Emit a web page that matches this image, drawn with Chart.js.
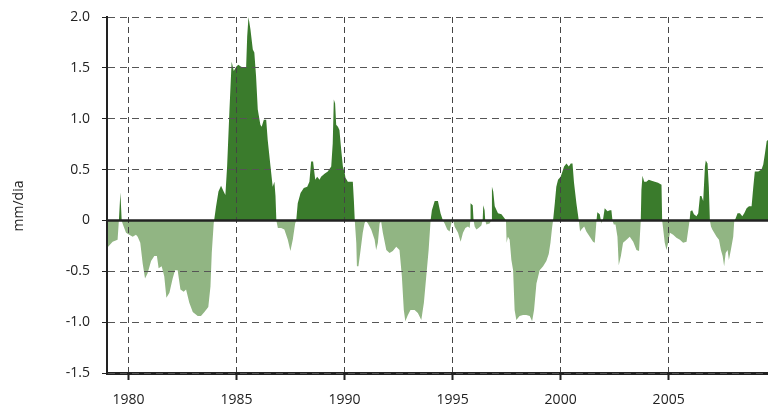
<!DOCTYPE html>
<html>
<head>
<meta charset="utf-8">
<title>mm/dia</title>
<script src="https://cdn.jsdelivr.net/npm/chart.js@4.4.1/dist/chart.umd.min.js"></script>
<style>
    html, body { margin: 0; padding: 0; background: #fff; }
    #wrap { position: relative; width: 768px; height: 410px; }
</style>
</head>
<body>
<div id="wrap"><canvas id="chart"></canvas></div>
<script>
// time axis (decimal years) and anomaly values in mm/dia
const years = [
    1979.00, 1979.26, 1979.49, 1979.55, 1979.62, 1979.68, 1979.72, 1979.88, 1980.03, 1980.19,
    1980.34, 1980.42, 1980.54, 1980.65, 1980.76, 1980.88, 1981.04, 1981.19, 1981.31, 1981.39,
    1981.53, 1981.65, 1981.75, 1981.89, 1982.04, 1982.15, 1982.27, 1982.40, 1982.55, 1982.66,
    1982.81, 1982.97, 1983.20, 1983.35, 1983.51, 1983.69, 1983.79, 1983.85, 1983.94,
    1984.05, 1984.16, 1984.28, 1984.40, 1984.48, 1984.56, 1984.67, 1984.77, 1984.87, 1984.98,
    1985.08, 1985.21, 1985.36, 1985.44, 1985.49, 1985.55, 1985.64, 1985.75, 1985.82, 1985.90,
    1985.98, 1986.10, 1986.16, 1986.26, 1986.37, 1986.44, 1986.57, 1986.67, 1986.75, 1986.80,
    1986.84, 1986.91, 1987.06, 1987.21, 1987.37, 1987.49, 1987.60, 1987.71, 1987.76, 1987.83,
    1987.96, 1988.11, 1988.27, 1988.37, 1988.45, 1988.54, 1988.64, 1988.73, 1988.84, 1988.91,
    1989.07, 1989.22, 1989.38, 1989.45, 1989.50, 1989.56, 1989.61, 1989.69, 1989.76, 1989.84,
    1989.92, 1990.00, 1990.04, 1990.15, 1990.30, 1990.38, 1990.43, 1990.47, 1990.54, 1990.57,
    1990.64, 1990.74, 1990.84, 1990.92, 1990.98, 1991.08, 1991.23, 1991.39, 1991.46, 1991.54,
    1991.62, 1991.69, 1991.77, 1991.93, 1992.08, 1992.23, 1992.39, 1992.54, 1992.65, 1992.74,
    1992.81, 1992.93, 1993.05, 1993.24, 1993.39, 1993.55, 1993.67, 1993.78, 1993.89, 1993.98,
    1994.04, 1994.17, 1994.32, 1994.44, 1994.55, 1994.63, 1994.75, 1994.86, 1994.94, 1994.98,
    1995.03, 1995.09, 1995.25, 1995.37, 1995.48, 1995.59, 1995.71, 1995.79, 1995.82, 1995.83,
    1995.93, 1995.97, 1996.02, 1996.10, 1996.20, 1996.33, 1996.39, 1996.42, 1996.48, 1996.51,
    1996.56, 1996.71, 1996.79, 1996.82, 1996.88, 1996.95, 1997.10, 1997.26, 1997.41, 1997.47,
    1997.50, 1997.56, 1997.64, 1997.72, 1997.80, 1997.87, 1997.95, 1998.10, 1998.26, 1998.41,
    1998.57, 1998.68, 1998.77, 1998.88, 1999.03, 1999.19, 1999.34, 1999.45, 1999.53, 1999.60,
    1999.65, 1999.73, 1999.80, 1999.88, 2000.00, 2000.07, 2000.16, 2000.27, 2000.38, 2000.47,
    2000.55, 2000.62, 2000.73, 2000.84, 2000.90, 2000.96, 2001.09, 2001.19, 2001.35, 2001.50,
    2001.58, 2001.63, 2001.66, 2001.70, 2001.81, 2001.89, 2001.97, 2002.04, 2002.17, 2002.28,
    2002.35, 2002.40, 2002.46, 2002.54, 2002.63, 2002.69, 2002.79, 2002.89, 2003.05, 2003.20,
    2003.36, 2003.51, 2003.63, 2003.71, 2003.74, 2003.79, 2003.87, 2003.97, 2004.08, 2004.21,
    2004.36, 2004.51, 2004.67, 2004.70, 2004.75, 2004.82, 2004.90, 2004.98, 2005.06, 2005.21,
    2005.36, 2005.52, 2005.67, 2005.83, 2005.91, 2005.97, 2006.01, 2006.09, 2006.17, 2006.29,
    2006.37, 2006.45, 2006.52, 2006.60, 2006.68, 2006.72, 2006.80, 2006.86, 2006.91, 2006.96,
    2007.02, 2007.11, 2007.22, 2007.33, 2007.42, 2007.50, 2007.57, 2007.64, 2007.73, 2007.79,
    2007.88, 2007.99, 2008.04, 2008.10, 2008.19, 2008.30, 2008.41, 2008.50, 2008.61, 2008.72,
    2008.84, 2008.92, 2008.99, 2009.15, 2009.30, 2009.38, 2009.46, 2009.54, 2009.60
];
const anomaly = [
    -0.27, -0.21, -0.19, 0.00, 0.275, 0.00, -0.03, -0.12, -0.14, -0.16,
    -0.14, -0.16, -0.22, -0.42, -0.57, -0.52, -0.40, -0.35, -0.35, -0.47,
    -0.45, -0.55, -0.76, -0.71, -0.57, -0.49, -0.49, -0.68, -0.70, -0.68,
    -0.81, -0.90, -0.94, -0.94, -0.90, -0.85, -0.65, -0.32, -0.03,
    0.14, 0.285, 0.34, 0.285, 0.25, 0.53, 1.09, 1.56, 1.47, 1.51,
    1.53, 1.51, 1.50, 1.50, 1.81, 2.00, 1.88, 1.68, 1.65, 1.42,
    1.09, 0.94, 0.92, 0.99, 0.99, 0.79, 0.53, 0.33, 0.38, 0.24,
    0.00, -0.075, -0.075, -0.09, -0.19, -0.30, -0.19, -0.03, 0.00, 0.17,
    0.27, 0.32, 0.33, 0.38, 0.58, 0.58, 0.40, 0.43, 0.40, 0.43,
    0.46, 0.48, 0.53, 0.76, 1.19, 1.15, 0.94, 0.92, 0.89, 0.70,
    0.53, 0.47, 0.42, 0.38, 0.38, 0.38, 0.19, 0.00, -0.22, -0.45,
    -0.45, -0.29, -0.12, -0.03, 0.00, -0.03, -0.09, -0.19, -0.29, -0.22,
    -0.03, -0.01, -0.12, -0.29, -0.32, -0.30, -0.26, -0.29, -0.55, -0.88,
    -0.99, -0.93, -0.88, -0.88, -0.91, -0.98, -0.81, -0.55, -0.29, 0.00,
    0.10, 0.19, 0.19, 0.07, 0.00, -0.03, -0.09, -0.11, -0.03, 0.04,
    0.00, -0.06, -0.12, -0.21, -0.12, -0.075, -0.06, -0.075, 0.00, 0.17,
    0.15, 0.00, -0.06, -0.09, -0.075, -0.05, 0.00, 0.15, 0.10, 0.00,
    -0.04, -0.03, 0.00, 0.33, 0.285, 0.14, 0.07, 0.06, 0.02, 0.00,
    -0.22, -0.16, -0.19, -0.39, -0.49, -0.88, -0.98, -0.94, -0.93, -0.93,
    -0.94, -0.99, -0.88, -0.62, -0.49, -0.45, -0.40, -0.33, -0.22, -0.08,
    0.00, 0.17, 0.33, 0.40, 0.43, 0.47, 0.53, 0.56, 0.53, 0.56,
    0.56, 0.37, 0.17, 0.00, -0.11, -0.09, -0.06, -0.11, -0.16, -0.21,
    -0.22, -0.09, 0.00, 0.08, 0.06, -0.03, 0.02, 0.12, 0.09, 0.10,
    0.10, 0.00, -0.04, -0.04, -0.16, -0.44, -0.35, -0.22, -0.19, -0.16,
    -0.21, -0.29, -0.30, 0.00, 0.30, 0.44, 0.38, 0.38, 0.40, 0.39,
    0.38, 0.37, 0.35, 0.00, -0.09, -0.22, -0.29, -0.22, -0.12, -0.14,
    -0.17, -0.19, -0.22, -0.21, -0.09, 0.00, 0.09, 0.10, 0.06, 0.04,
    0.07, 0.24, 0.24, 0.19, 0.53, 0.59, 0.56, 0.33, 0.00, -0.06,
    -0.09, -0.12, -0.16, -0.19, -0.29, -0.35, -0.45, -0.32, -0.29, -0.39,
    -0.29, -0.16, 0.00, 0.02, 0.07, 0.07, 0.04, 0.07, 0.12, 0.14,
    0.14, 0.33, 0.48, 0.48, 0.50, 0.55, 0.66, 0.78, 0.79
];
const xTicks = [1980, 1985, 1990, 1995, 2000, 2005];
const yTicks = [-1.5, -1.0, -0.5, 0, 0.5, 1.0, 1.5, 2.0];
const yTickLabels = ['-1.5', '-1.0', '-0.5', '0', '0.5', '1.0', '1.5', '2.0'];

const DARK = '#3a7b2c';
const LIGHT = '#91b583';
const INK = '#222';

Chart.defaults.font.family = "'Open Sans', 'Noto Sans', sans-serif";
Chart.defaults.font.size = 14;
Chart.defaults.color = INK;

// solid zero line and the rotated unit label
const extras = {
    id: 'extras',
    afterDraw(chart) {
        const { ctx, chartArea, scales } = chart;
        const y0 = scales.y.getPixelForValue(0);
        ctx.save();
        ctx.strokeStyle = INK;
        ctx.lineWidth = 2.5;
        ctx.beginPath();
        ctx.moveTo(chartArea.left, y0);
        ctx.lineTo(chartArea.right, y0);
        ctx.stroke();

        ctx.translate(19, 206);
        ctx.rotate(-Math.PI / 2);
        ctx.fillStyle = INK;
        ctx.font = "14px 'Open Sans', 'Noto Sans', sans-serif";
        ctx.textAlign = 'center';
        ctx.textBaseline = 'middle';
        ctx.fillText('mm/dia', 0, 0);
        ctx.restore();
    }
};

new Chart(document.getElementById('chart'), {
    type: 'line',
    data: {
        datasets: [{
            data: years.map((x, i) => ({ x: x, y: anomaly[i] })),
            borderColor: 'rgba(0,0,0,0)',
            borderWidth: 0,
            pointRadius: 0,
            tension: 0,
            fill: { target: 'origin', above: DARK, below: LIGHT }
        }]
    },
    options: {
        responsive: true,
        maintainAspectRatio: false,
        animation: false,
        layout: { padding: { top: 17, right: 0, left: 0, bottom: 0 } },
        plugins: { legend: { display: false }, tooltip: { enabled: false } },
        scales: {
            x: {
                type: 'linear',
                min: 1979.0,
                max: 2009.6,
                afterBuildTicks: (scale) => { scale.ticks = xTicks.map(v => ({ value: v })); },
                afterFit: (scale) => { scale.height = 37; scale.paddingLeft = 0; scale.paddingRight = 0; },
                ticks: { padding: 12, callback: (v) => String(v) },
                grid: { z: 1, color: '#444', lineWidth: 1, tickLength: 7, tickWidth: 2, tickColor: INK },
                border: { z: 1, color: INK, width: 3, dash: [6, 4] }
            },
            y: {
                min: -1.5,
                max: 2.0,
                afterBuildTicks: (scale) => { scale.ticks = yTicks.map(v => ({ value: v })); },
                afterFit: (scale) => { scale.width = 107; scale.paddingTop = 0; scale.paddingBottom = 0; },
                ticks: {
                    padding: 12,
                    callback: (v) => yTickLabels[yTicks.indexOf(v)]
                },
                grid: {
                    z: 1,
                    color: (c) => (c.tick && c.tick.value === 0) ? 'rgba(0,0,0,0)' : '#555',
                    lineWidth: 1,
                    tickLength: 5,
                    tickColor: INK
                },
                border: { z: 1, color: INK, width: 2, dash: [7, 5] }
            }
        }
    },
    plugins: [extras]
});
</script>
</body>
</html>
